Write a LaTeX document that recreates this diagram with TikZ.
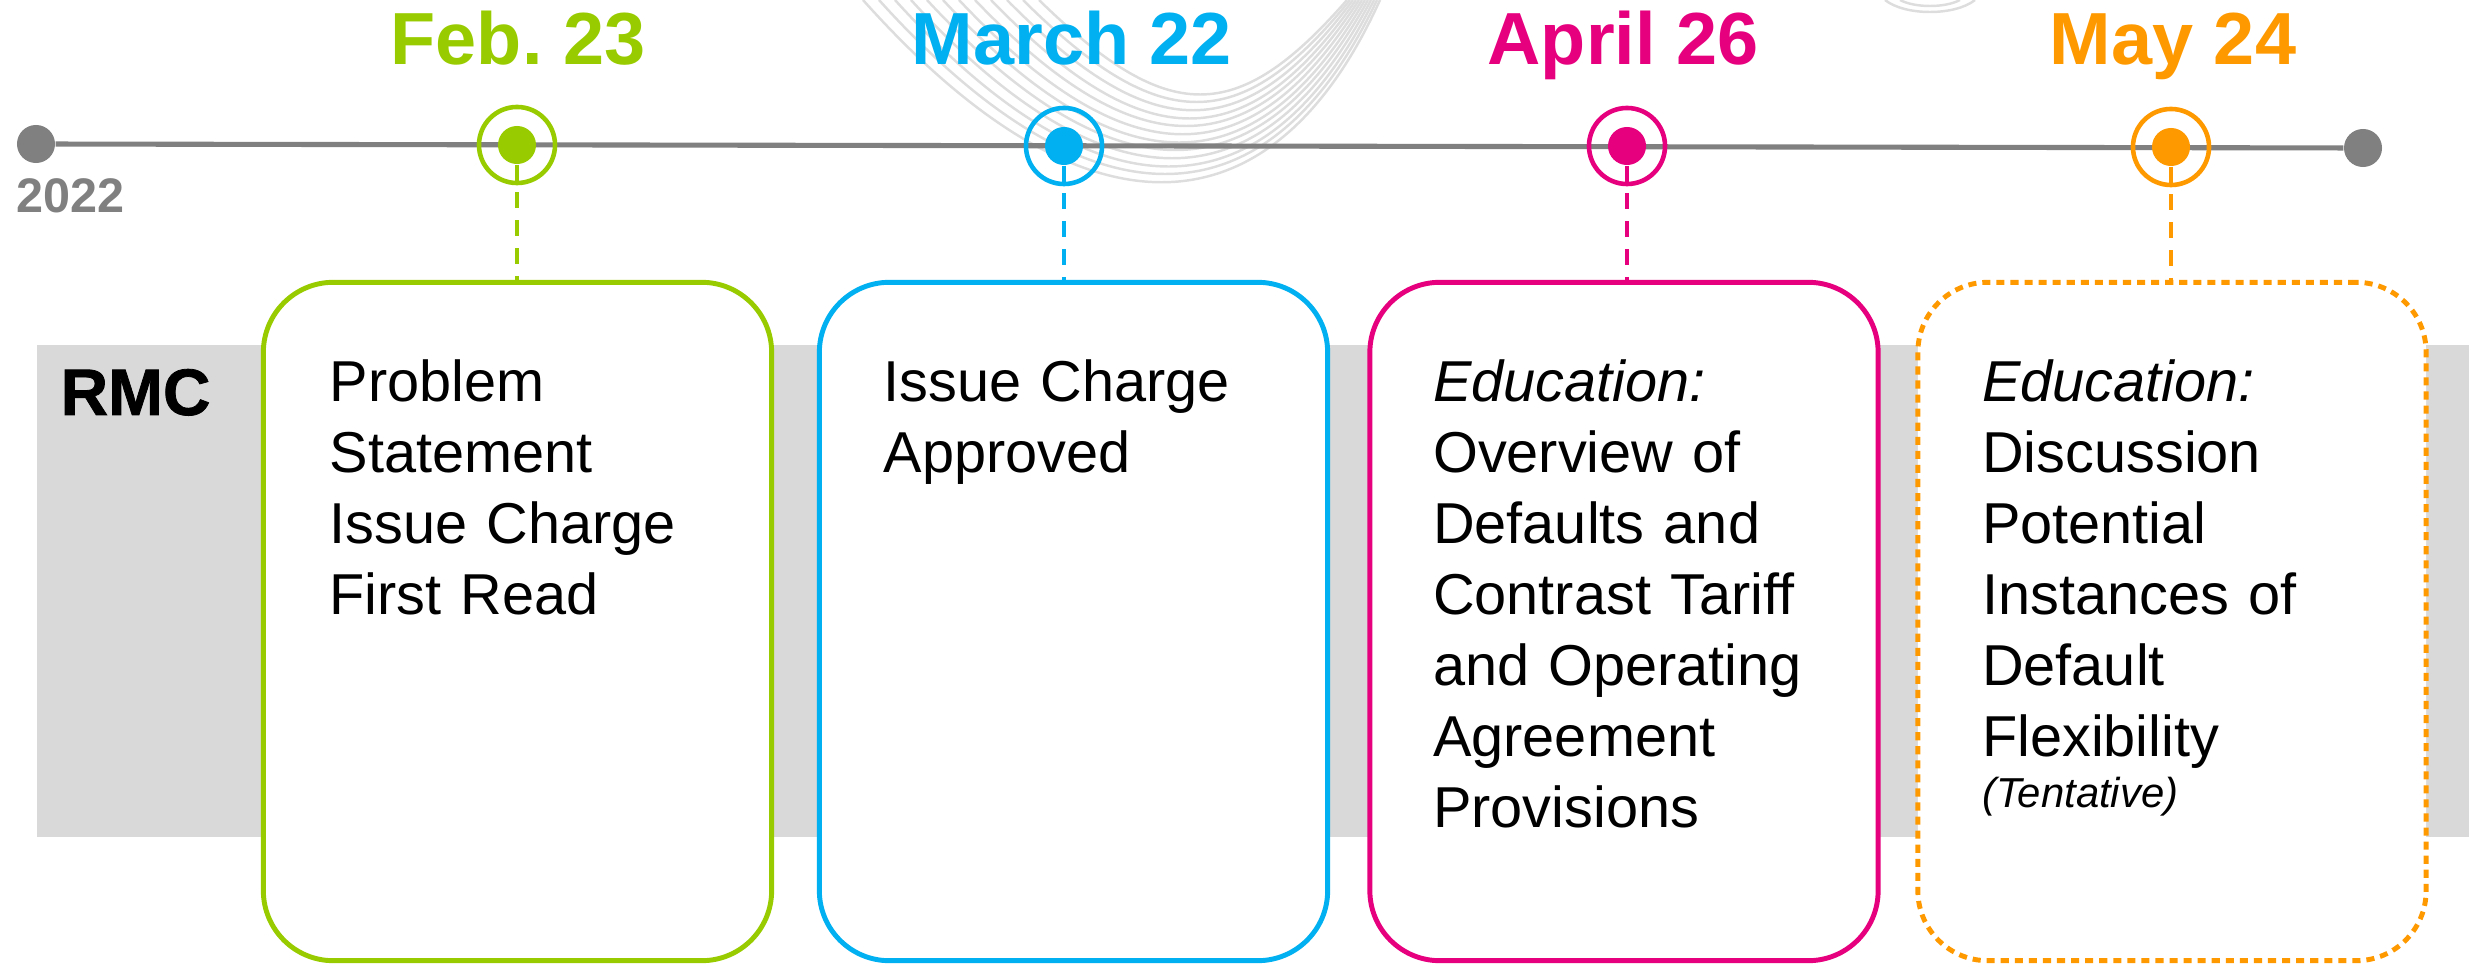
\documentclass[tikz,border=0pt]{standalone}
\usepackage{fontspec}
\setmainfont{Liberation Sans}
\newfontfamily\heavyfont[FakeBold=1.2]{Liberation Sans}
\usetikzlibrary{positioning}
\definecolor{feb}{HTML}{99CC00}
\definecolor{march}{HTML}{00B0F0}
\definecolor{april}{HTML}{E6007E}
\definecolor{may}{HTML}{FF9900}
\definecolor{axis}{HTML}{808080}
\definecolor{band}{HTML}{D9D9D9}
\definecolor{wave}{HTML}{DDDDDD}
\frenchspacing
\begin{document}
\begin{tikzpicture}[x=0.01cm, y=-0.01cm,
  end dot/.style={circle,fill=axis,minimum size=.38cm,inner sep=0pt},
  ring/.style={circle,draw,line width=1.3pt,minimum size=.76cm,inner sep=0pt},
  core/.style={circle,minimum size=.38cm,inner sep=0pt},
  stem/.style={line width=1pt,dash pattern=on 4.5pt off 3.4pt},
  card/.style={rounded corners=.7cm,line width=1.4pt,fill=white,minimum width=5.08cm,minimum height=6.78cm,inner sep=0pt},
  date/.style={font=\fontsize{21}{25}\selectfont\bfseries,anchor=base,inner sep=0pt},
  body/.style={font=\fontsize{16.4}{20.2}\selectfont,align=left,text width=4.3cm,inner sep=0pt,anchor=north west}]
\useasboundingbox (0,0) rectangle (2469,967);
% faint waves behind the dates
\begin{scope}[wave, line width=.7pt]
\draw (863,0) .. controls (1080,243) and (1270,243) .. (1380,0);
\draw (879,0) .. controls (1088,232) and (1267,232) .. (1377,0);
\draw (895,0) .. controls (1096,222) and (1264,222) .. (1374,0);
\draw (911,0) .. controls (1104,211) and (1261,211) .. (1371,0);
\draw (927,0) .. controls (1112,200) and (1258,200) .. (1368,0);
\draw (943,0) .. controls (1120,190) and (1255,190) .. (1365,0);
\draw (959,0) .. controls (1128,179) and (1252,179) .. (1362,0);
\draw (975,0) .. controls (1136,168) and (1249,168) .. (1359,0);
\draw (991,0) .. controls (1144,158) and (1246,158) .. (1356,0);
\draw (1007,0) .. controls (1152,147) and (1243,147) .. (1353,0);
\draw (1023,0) .. controls (1160,136) and (1240,136) .. (1350,0);
\draw (1039,0) .. controls (1168,126) and (1237,126) .. (1347,0);
\draw (1885,0) .. controls (1905,16) and (1955,16) .. (1975,0);
\draw (1900,0) .. controls (1915,8) and (1945,8) .. (1960,0);
\end{scope}
% RMC band
\fill[band] (37,345) rectangle (2469,837);
\node[font=\heavyfont\fontsize{18.7}{22}\selectfont\bfseries, anchor=base west, inner sep=0pt] (rmc) at (60,415) {RMC};
% timeline
\node[end dot] (start) at (36,144) {};
\node[end dot] (stop) at (2363,148) {};
\draw[axis, line width=1.45pt] (start) -- (stop);
\node[font=\fontsize{13.8}{16}\selectfont\bfseries, text=axis, anchor=base west, inner sep=0pt] (year) at (16,213) {2022};
\node[ring,draw=feb] (m1) at (517,145) {};
\node[core,fill=feb] (c1) at (m1) {};
\node[ring,draw=march] (m2) at (1064,146) {};
\node[core,fill=march] (c2) at (m2) {};
\node[ring,draw=april] (m3) at (1627,146) {};
\node[core,fill=april] (c3) at (m3) {};
\node[ring,draw=may] (m4) at (2171,147) {};
\node[core,fill=may] (c4) at (m4) {};
\node[date,text=feb] (d1) at (518,65) {Feb. 23};
\node[date,text=march] (d2) at (1072,65) {March 22};
\node[date,text=april] (d3) at (1623,65) {April 26};
\node[date,text=may] (d4) at (2173,65) {May 24};
% cards
\node[card,draw=feb] (box1) at (517.5,621.5) {};
\node[card,draw=march] (box2) at (1073.5,621.5) {};
\node[card,draw=april] (box3) at (1624,621.5) {};
\node[card,draw=may,dash pattern=on 2.3pt off 1.7pt] (box4) at (2172,621.5) {};
\draw[stem,feb] (c1.south) -- (c1.south |- box1.north);
\draw[stem,march] (c2.south) -- (c2.south |- box2.north);
\draw[stem,april] (c3.south) -- (c3.south |- box3.north);
\draw[stem,may] (c4.south) -- (c4.south |- box4.north);
\node[body] (t1) at ([xshift=.68cm,yshift=-.79cm]box1.north west) {Problem\\Statement\\Issue Charge\\First Read};
\node[body] (t2) at ([xshift=.66cm,yshift=-.79cm]box2.north west) {Issue Charge\\Approved};
\node[body] (t3) at ([xshift=.65cm,yshift=-.79cm]box3.north west) {\textit{Education:}\\Overview of\\Defaults and\\Contrast Tariff\\and Operating\\Agreement\\Provisions};
\node[body] (t4) at ([xshift=.66cm,yshift=-.79cm]box4.north west) {\textit{Education:}\\Discussion\\Potential\\Instances of\\Default\\Flexibility\\[-.2cm]{\fontsize{11.9}{14}\selectfont\itshape (Tentative)}};
\end{tikzpicture}
\end{document}
